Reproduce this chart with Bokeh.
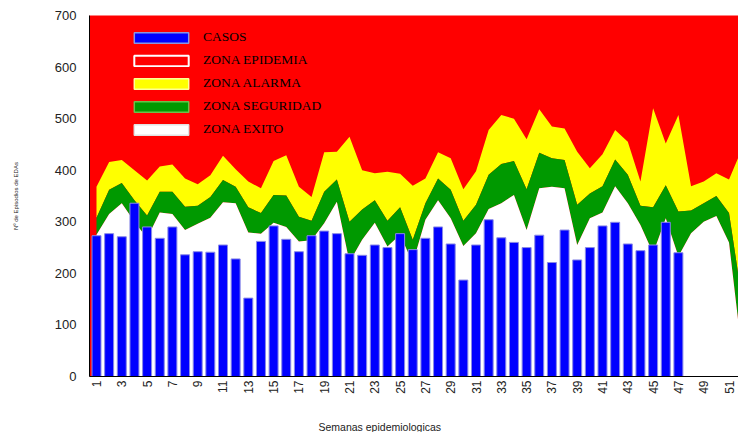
import math
from bokeh.plotting import figure
from bokeh.models import FixedTicker, Legend, LegendItem, ColumnDataSource, Title
from bokeh.embed import file_html
from bokeh.resources import INLINE

# ---- data ----
weeks = list(range(1, 53))
casos_weeks = list(range(1, 48))
casos = [273, 277, 271, 336, 290, 268, 290, 236, 242, 241, 255, 228, 152, 262, 292, 266,
         242, 273, 282, 277, 238, 235, 255, 250, 277, 246, 268, 290, 257, 187, 255, 304,
         269, 260, 250, 274, 221, 284, 226, 250, 292, 299, 257, 244, 255, 299, 240]
zona_alarma_sup = [368, 416, 420, 400, 380, 407, 411, 384, 373, 390, 428, 402, 378, 365, 418, 429,
                   368, 348, 435, 436, 465, 400, 394, 397, 393, 370, 384, 435, 423, 363, 398, 478,
                   507, 500, 460, 518, 485, 481, 436, 404, 431, 478, 455, 378, 520, 452, 507, 369,
                   378, 394, 382, 440]
zona_seguridad_sup = [308, 362, 375, 342, 312, 358, 358, 329, 331, 348, 381, 368, 328, 317, 352, 351,
                      310, 302, 358, 382, 300, 324, 342, 302, 328, 265, 336, 384, 362, 302, 333, 391,
                      412, 418, 363, 434, 423, 420, 333, 355, 369, 421, 391, 331, 328, 371, 320, 322,
                      336, 350, 317, 155]
zona_exito_sup = [275, 315, 336, 300, 268, 318, 315, 284, 296, 308, 338, 336, 279, 277, 298, 290,
                  262, 264, 297, 339, 222, 265, 298, 252, 275, 220, 304, 342, 307, 253, 278, 325,
                  336, 352, 284, 365, 368, 365, 255, 307, 318, 369, 336, 294, 239, 307, 233, 278,
                  300, 311, 260, 50]
x_ticks = list(range(1, 52, 2))
y_ticks = [0, 100, 200, 300, 400, 500, 600, 700]
legend_labels = ["CASOS", "ZONA EPIDEMIA", "ZONA ALARMA", "ZONA SEGURIDAD", "ZONA EXITO"]
x_title = "Semanas epidemiologicas"
y_title = "Nº de Episodios de EDAs"

p = figure(width=738, height=432, x_range=(0.447, 51.75), y_range=(0, 700),
           output_backend="svg", toolbar_location=None,
           min_border_left=89, min_border_right=0, min_border_top=15, min_border_bottom=55)
p.background_fill_color = "#ff0000"
p.border_fill_color = "white"
p.outline_line_color = None
p.grid.visible = False

r_yel = p.varea(x=weeks, y1=zona_seguridad_sup, y2=zona_alarma_sup, fill_color="#ffff00")
r_grn = p.varea(x=weeks, y1=zona_exito_sup, y2=zona_seguridad_sup, fill_color="#009900")
r_wht = p.varea(x=weeks, y1=0, y2=zona_exito_sup, fill_color="#ffffff")
r_bar = p.vbar(x=casos_weeks, top=casos, width=0.71, fill_color="#0000ff",
               line_color="#8a8ae6", line_width=1)

# legend carriers (a single degenerate quad outside the visible x range)
def carrier(fill, line, lw):
    src = ColumnDataSource(dict(left=[-3], right=[-2], bottom=[0], top=[0]))
    return p.quad(left="left", right="right", bottom="bottom", top="top", source=src,
                  fill_color=fill, line_color=line, line_width=lw)

l_cas = carrier("#0000ff", "#8a96e0", 1.5)
l_epi = carrier("#ff0000", "#ffffff", 2)
l_ala = carrier("#ffff00", "#ffff99", 1.5)
l_seg = carrier("#009900", "#6cc04a", 1.5)
l_exi = carrier("#ffffff", "#e2e2e2", 1.5)

legend = Legend(items=[
    LegendItem(label=legend_labels[0], renderers=[l_cas]),
    LegendItem(label=legend_labels[1], renderers=[l_epi]),
    LegendItem(label=legend_labels[2], renderers=[l_ala]),
    LegendItem(label=legend_labels[3], renderers=[l_seg]),
    LegendItem(label=legend_labels[4], renderers=[l_exi]),
], location=(38, 239), orientation="vertical", glyph_width=68, glyph_height=13,
    label_height=13, spacing=7, padding=0, margin=0, label_standoff=8,
    background_fill_alpha=0, border_line_color=None,
    label_text_font="Liberation Serif", label_text_font_size="13.5px",
    label_text_color="#000000", label_text_baseline="middle")
p.add_layout(legend)

p.xaxis.ticker = FixedTicker(ticks=x_ticks)
p.xaxis.major_label_orientation = math.pi / 2
p.xaxis.major_tick_in = 0
p.xaxis.major_tick_out = 0
p.xaxis.minor_tick_in = 0
p.xaxis.minor_tick_out = 0
p.xaxis.major_label_standoff = 4
p.xaxis.major_label_text_font = "Liberation Sans"
p.xaxis.major_label_text_font_size = "12px"
p.xaxis.major_label_text_color = "#222222"
p.xaxis.axis_line_color = "#000000"

spacer = Title(text=" ", standoff=0, text_font="Liberation Sans", text_font_size="18px")
p.add_layout(spacer, "below")
xt = Title(text=x_title, align="left", offset=229, standoff=0,
           text_font="Liberation Sans", text_font_size="10.5px",
           text_font_style="normal", text_color="#222222")
p.add_layout(xt, "below")

p.yaxis.ticker = FixedTicker(ticks=y_ticks)
p.yaxis.major_tick_in = 0
p.yaxis.major_tick_out = 0
p.yaxis.minor_tick_in = 0
p.yaxis.minor_tick_out = 0
p.yaxis.major_label_standoff = 13
p.yaxis.major_label_text_font = "Liberation Sans"
p.yaxis.major_label_text_font_size = "13px"
p.yaxis.major_label_text_color = "#222222"
p.yaxis.axis_label = y_title
p.yaxis.axis_label_text_font = "Liberation Sans"
p.yaxis.axis_label_text_font_size = "6px"
p.yaxis.axis_label_text_font_style = "normal"
p.yaxis.axis_label_text_color = "#222222"
p.yaxis.axis_label_standoff = 33
p.yaxis.axis_line_color = "#000000"

open("out.html", "w").write(file_html(p, INLINE))
